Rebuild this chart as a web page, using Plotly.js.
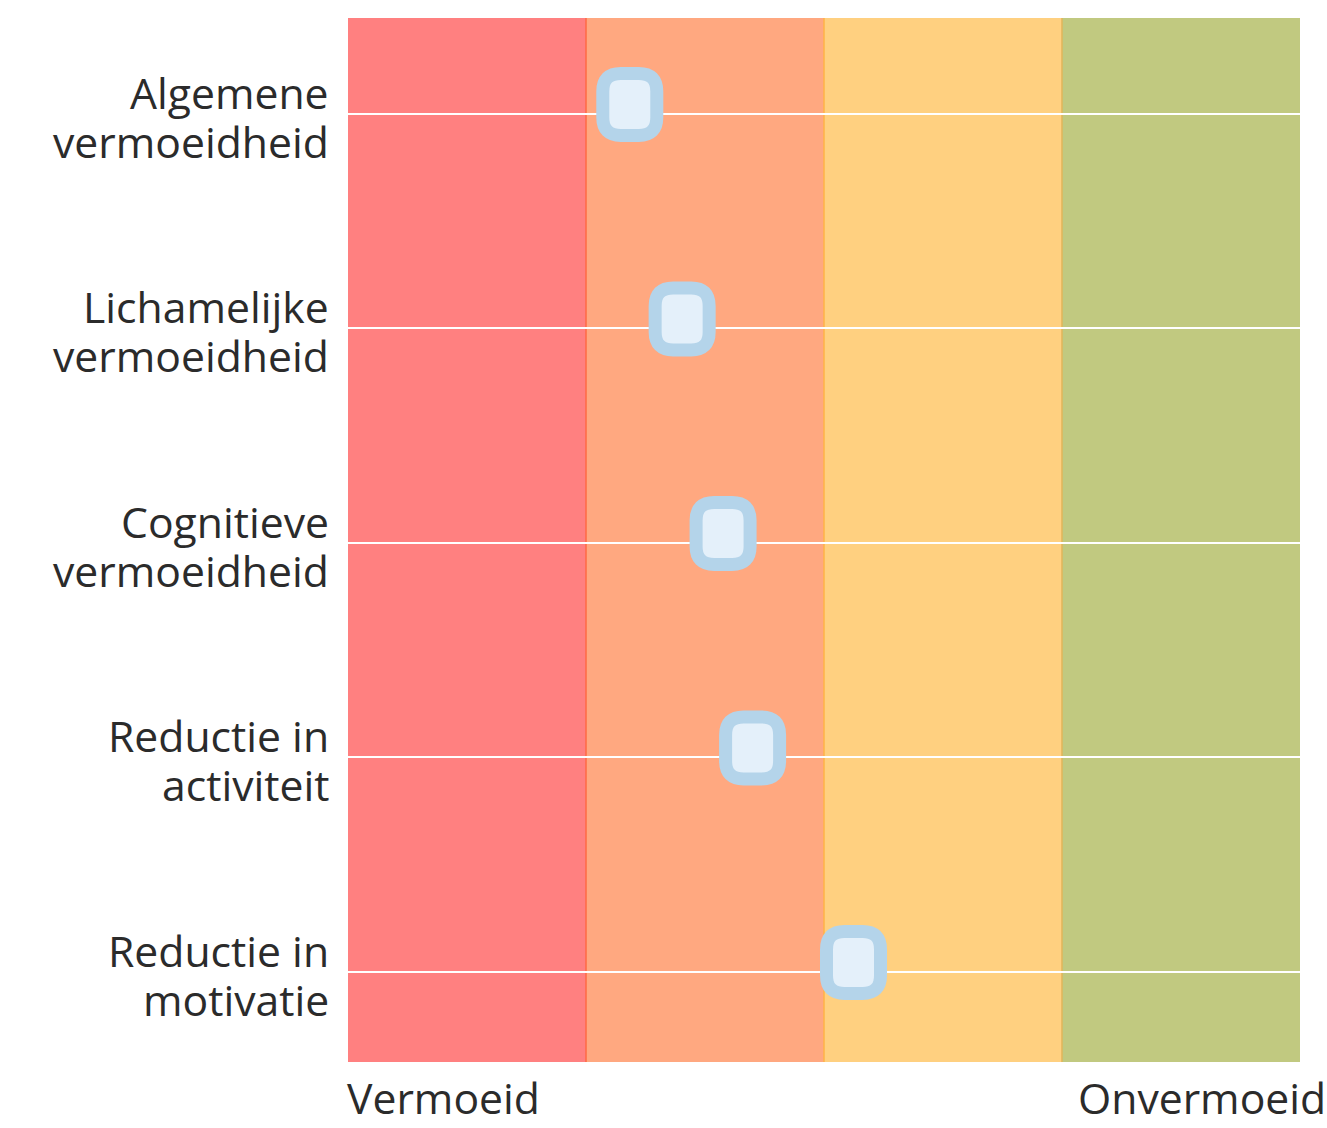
<!DOCTYPE html>
<html>
<head>
<meta charset="utf-8">
<script src="https://cdn.plot.ly/plotly-3.0.1.min.js"></script>
<style>
  html, body { margin: 0; padding: 0; background: #ffffff; }
  #chart { width: 1327px; height: 1128px; }
</style>
</head>
<body>
<div id="chart"></div>
<script>
// ---- data ----
const labelLine1 = ["Algemene", "Lichamelijke", "Cognitieve", "Reductie in", "Reductie in"];
const labelLine2 = ["vermoeidheid", "vermoeidheid", "vermoeidheid", "activiteit", "motivatie"];
const scores = [29.6, 35.1, 39.4, 42.5, 53.1];
const bandEdges = [0, 25, 50, 75, 100];
const bandColors = ["#FF8080", "#FFA880", "#FFD080", "#C1C980"];
const borderColors = ["#FF6A45", "#FFB347", "#E2B55A"];
const axisLabels = ["Vermoeid", "Onvermoeid"];

// ---- styling ----
const textColor = "#2b2b2b";
const fontFamily = "'Open Sans', sans-serif";
const fontSize = 42.7;
const yIdx = labelLine1.map((_, i) => i);

function roundedRect(cx, cy, w, h, r) {
  const l = cx - w / 2, rt = cx + w / 2, t = cy + h / 2, b = cy - h / 2;
  return `M ${l + r},${t} L ${rt - r},${t} Q ${rt},${t} ${rt},${t - r} ` +
         `L ${rt},${b + r} Q ${rt},${b} ${rt - r},${b} L ${l + r},${b} ` +
         `Q ${l},${b} ${l},${b + r} L ${l},${t - r} Q ${l},${t} ${l + r},${t} Z`;
}

const shapes = [];
for (let i = 0; i < bandColors.length; i++) {
  shapes.push({
    type: "rect", layer: "below", xref: "x", yref: "paper",
    x0: bandEdges[i], x1: bandEdges[i + 1], y0: 0, y1: 1,
    fillcolor: bandColors[i], line: { width: 0 }
  });
}
for (let i = 0; i < borderColors.length; i++) {
  shapes.push({
    type: "line", layer: "below", xref: "x", yref: "paper",
    x0: bandEdges[i + 1], x1: bandEdges[i + 1], y0: 0, y1: 1,
    line: { color: borderColors[i], width: 1.5 }
  });
}
scores.forEach((s, i) => {
  shapes.push({
    type: "path", layer: "above", xref: "x", yref: "y",
    xsizemode: "pixel", ysizemode: "pixel",
    xanchor: s, yanchor: yIdx[i],
    path: roundedRect(0, 9.5, 54, 62, 18),
    fillcolor: "#E4F0FA",
    line: { color: "#B4D4EA", width: 13 }
  });
});

const annotations = [];
yIdx.forEach((yi) => {
  annotations.push({
    text: labelLine1[yi], xref: "paper", yref: "y", x: 0, y: yi,
    xanchor: "right", yanchor: "middle", xshift: -17, yshift: 21.5,
    showarrow: false, font: { family: fontFamily, color: textColor, size: fontSize }
  });
  annotations.push({
    text: labelLine2[yi], xref: "paper", yref: "y", x: 0, y: yi,
    xanchor: "right", yanchor: "middle", xshift: -17, yshift: -27.5,
    showarrow: false, font: { family: fontFamily, color: textColor, size: fontSize }
  });
});
annotations.push({
  text: axisLabels[0], xref: "paper", yref: "paper",
  x: 0, y: 0, xanchor: "left", yanchor: "top", yshift: -4, xshift: -3,
  showarrow: false, font: { family: fontFamily, color: textColor, size: fontSize }
});
annotations.push({
  text: axisLabels[1], xref: "paper", yref: "paper",
  x: 1, y: 0, xanchor: "right", yanchor: "top", yshift: -4, xshift: 28,
  showarrow: false, font: { family: fontFamily, color: textColor, size: fontSize }
});

const data = [{
  type: "scatter", mode: "markers",
  x: scores, y: yIdx,
  marker: { size: 40, opacity: 0 },
  hoverinfo: "x",
  showlegend: false
}];

const layout = {
  width: 1327, height: 1128,
  margin: { l: 348, r: 27, t: 18, b: 66, pad: 0 },
  paper_bgcolor: "#ffffff",
  plot_bgcolor: "#ffffff",
  showlegend: false,
  font: { family: fontFamily, color: textColor, size: fontSize },
  xaxis: {
    range: [bandEdges[0], bandEdges[bandEdges.length - 1]],
    showgrid: false, zeroline: false, showticklabels: false,
    showline: false, ticks: "", fixedrange: true
  },
  yaxis: {
    range: [4.42, -0.447],
    tickmode: "array", tickvals: yIdx,
    showticklabels: false,
    showgrid: true, gridcolor: "#ffffff", gridwidth: 2,
    zeroline: false, showline: false, ticks: "",
    fixedrange: true
  },
  shapes: shapes,
  annotations: annotations
};

Plotly.newPlot("chart", data, layout, { displayModeBar: false, staticPlot: true });
</script>
</body>
</html>
